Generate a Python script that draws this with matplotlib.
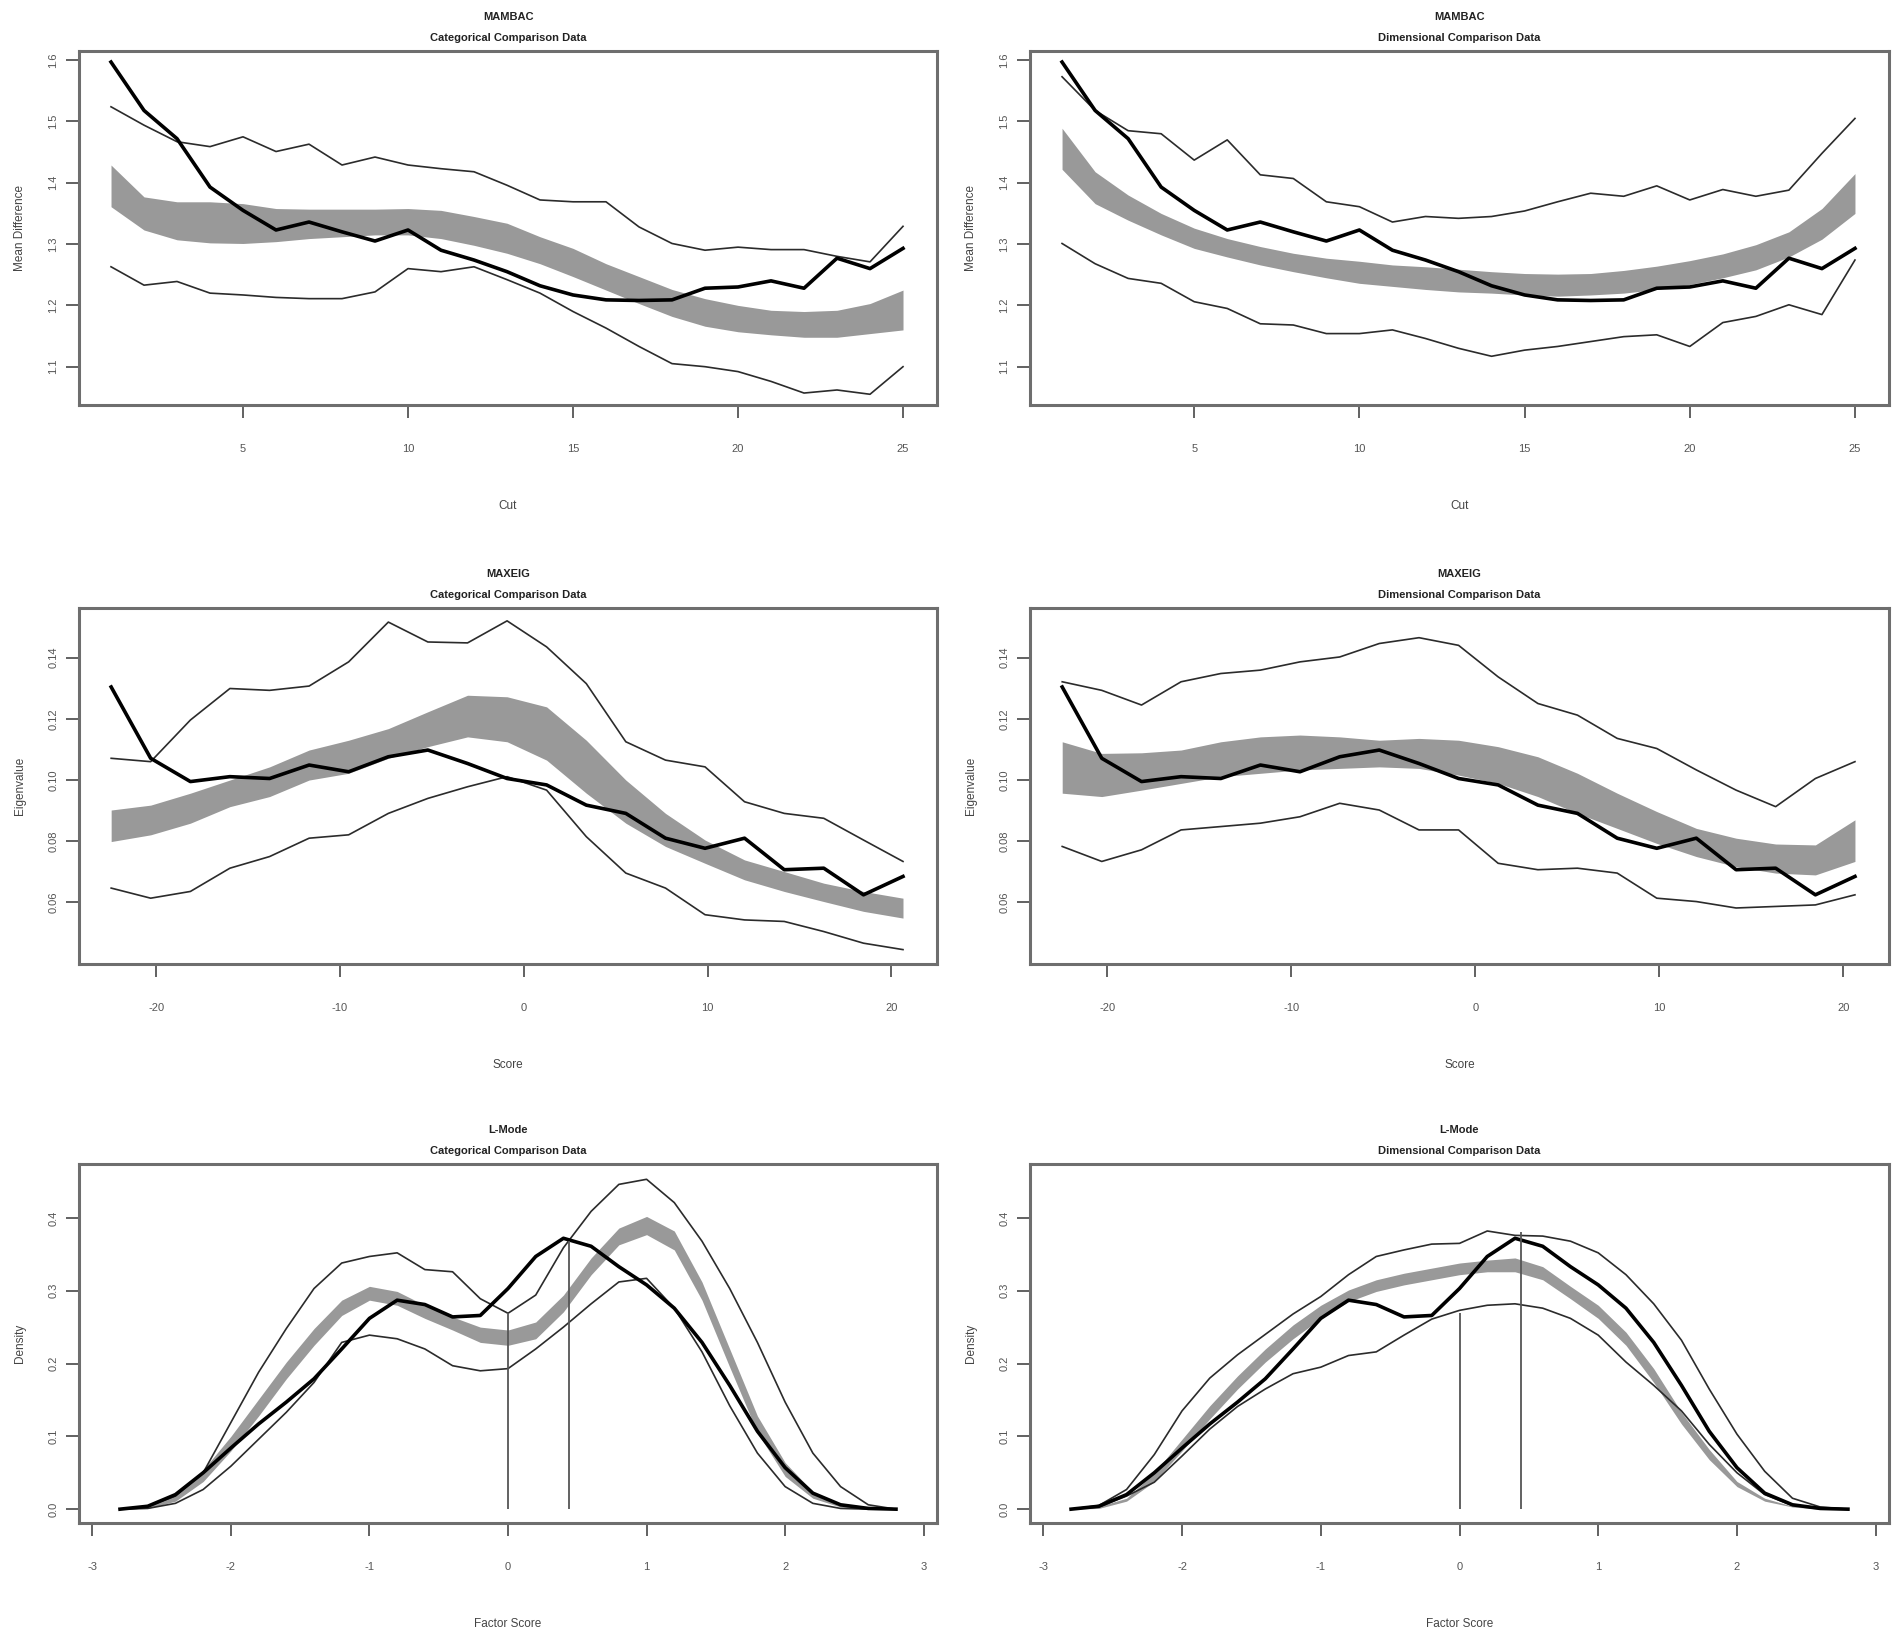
import numpy as np
import matplotlib
matplotlib.use("Agg")
import matplotlib.pyplot as plt

plt.rcParams["font.family"] = ["Liberation Sans", "DejaVu Sans"]
plt.rcParams["axes.unicode_minus"] = False

# ---------------- MAMBAC ----------------
cut = list(range(1, 26))
mambac_data = [1.597, 1.518, 1.472, 1.393, 1.355, 1.323, 1.336, 1.320, 1.305, 1.323, 1.290, 1.274, 1.255,
               1.232, 1.217, 1.209, 1.208, 1.209, 1.228, 1.230, 1.240, 1.228, 1.277, 1.260, 1.293]
mambac_cat_max = [1.524, 1.494, 1.467, 1.459, 1.475, 1.451, 1.463, 1.429, 1.442, 1.429, 1.423, 1.418, 1.396,
                  1.372, 1.369, 1.369, 1.328, 1.301, 1.290, 1.295, 1.291, 1.291, 1.280, 1.271, 1.329]
mambac_cat_min = [1.263, 1.233, 1.239, 1.220, 1.217, 1.213, 1.211, 1.211, 1.222, 1.260, 1.255, 1.263, 1.242,
                  1.220, 1.190, 1.163, 1.133, 1.105, 1.100, 1.092, 1.076, 1.057, 1.062, 1.055, 1.100]
mambac_cat_hi = [1.429, 1.377, 1.369, 1.369, 1.366, 1.358, 1.357, 1.357, 1.357, 1.358, 1.355, 1.345, 1.334,
                 1.312, 1.293, 1.268, 1.247, 1.226, 1.211, 1.200, 1.192, 1.190, 1.192, 1.203, 1.225]
mambac_cat_lo = [1.361, 1.323, 1.307, 1.302, 1.301, 1.304, 1.309, 1.312, 1.315, 1.315, 1.309, 1.298, 1.285,
                 1.268, 1.247, 1.225, 1.203, 1.182, 1.166, 1.157, 1.152, 1.148, 1.148, 1.154, 1.160]
mambac_dim_max = [1.573, 1.518, 1.485, 1.480, 1.437, 1.470, 1.413, 1.407, 1.369, 1.361, 1.336, 1.345, 1.342,
                  1.345, 1.354, 1.369, 1.383, 1.378, 1.395, 1.372, 1.389, 1.378, 1.388, 1.448, 1.505]
mambac_dim_min = [1.301, 1.268, 1.244, 1.236, 1.206, 1.195, 1.170, 1.168, 1.154, 1.154, 1.160, 1.146, 1.130,
                  1.117, 1.127, 1.133, 1.141, 1.149, 1.152, 1.133, 1.172, 1.182, 1.201, 1.185, 1.274]
mambac_dim_hi = [1.489, 1.418, 1.380, 1.350, 1.326, 1.309, 1.296, 1.285, 1.277, 1.272, 1.266, 1.263, 1.259,
                 1.255, 1.252, 1.251, 1.252, 1.257, 1.264, 1.273, 1.284, 1.299, 1.320, 1.358, 1.415]
mambac_dim_lo = [1.422, 1.366, 1.339, 1.315, 1.293, 1.279, 1.266, 1.255, 1.245, 1.236, 1.231, 1.226, 1.222,
                 1.220, 1.217, 1.215, 1.217, 1.220, 1.226, 1.234, 1.245, 1.258, 1.279, 1.308, 1.350]

# ---------------- MAXEIG ----------------
score = [-22.45, -20.30, -18.14, -15.99, -13.83, -11.68, -9.53, -7.37, -5.22, -3.06, -0.91,
         1.24, 3.40, 5.55, 7.71, 9.86, 12.01, 14.17, 16.32, 18.48, 20.63]
maxeig_data = [0.1304, 0.1071, 0.0995, 0.1011, 0.1005, 0.1049, 0.1027, 0.1076, 0.1098, 0.1054, 0.1005,
               0.0984, 0.0918, 0.0891, 0.0810, 0.0777, 0.0810, 0.0707, 0.0712, 0.0625, 0.0685]
maxeig_cat_max = [0.1071, 0.1060, 0.1196, 0.1299, 0.1293, 0.1307, 0.1386, 0.1516, 0.1451, 0.1448, 0.1520,
                  0.1435, 0.1315, 0.1125, 0.1065, 0.1043, 0.0929, 0.0891, 0.0875, 0.0804, 0.0734]
maxeig_cat_min = [0.0647, 0.0614, 0.0636, 0.0712, 0.0750, 0.0810, 0.0821, 0.0891, 0.0940, 0.0978, 0.1011,
                  0.0967, 0.0815, 0.0696, 0.0647, 0.0560, 0.0543, 0.0538, 0.0505, 0.0467, 0.0446]
maxeig_cat_hi = [0.0902, 0.0918, 0.0957, 0.1000, 0.1043, 0.1098, 0.1130, 0.1168, 0.1223, 0.1277, 0.1272,
                 0.1239, 0.1130, 0.1000, 0.0891, 0.0804, 0.0739, 0.0701, 0.0663, 0.0636, 0.0614]
maxeig_cat_lo = [0.0799, 0.0821, 0.0859, 0.0913, 0.0946, 0.1000, 0.1022, 0.1071, 0.1109, 0.1141, 0.1125,
                 0.1065, 0.0957, 0.0859, 0.0783, 0.0728, 0.0674, 0.0636, 0.0603, 0.0571, 0.0549]
maxeig_dim_max = [0.1321, 0.1293, 0.1245, 0.1321, 0.1348, 0.1359, 0.1386, 0.1402, 0.1446, 0.1465, 0.1440,
                  0.1337, 0.1250, 0.1212, 0.1136, 0.1103, 0.1033, 0.0967, 0.0913, 0.1005, 0.1060]
maxeig_dim_min = [0.0783, 0.0734, 0.0772, 0.0837, 0.0848, 0.0859, 0.0880, 0.0924, 0.0902, 0.0837, 0.0837,
                  0.0728, 0.0707, 0.0712, 0.0696, 0.0614, 0.0603, 0.0582, 0.0587, 0.0592, 0.0625]
maxeig_dim_hi = [0.1125, 0.1087, 0.1089, 0.1098, 0.1125, 0.1141, 0.1147, 0.1141, 0.1130, 0.1136, 0.1130,
                 0.1109, 0.1076, 0.1022, 0.0957, 0.0897, 0.0842, 0.0810, 0.0791, 0.0788, 0.0870]
maxeig_dim_lo = [0.0957, 0.0946, 0.0967, 0.0989, 0.1011, 0.1022, 0.1033, 0.1038, 0.1043, 0.1038, 0.1016,
                 0.0989, 0.0946, 0.0891, 0.0842, 0.0793, 0.0750, 0.0717, 0.0696, 0.0690, 0.0734]

# ---------------- L-Mode ----------------
factor = [-2.8, -2.6, -2.4, -2.2, -2.0, -1.8, -1.6, -1.4, -1.2, -1.0, -0.8, -0.6, -0.4, -0.2, 0.0,
          0.2, 0.4, 0.6, 0.8, 1.0, 1.2, 1.4, 1.6, 1.8, 2.0, 2.2, 2.4, 2.6, 2.8]
lmode_data = [0, 0.004, 0.020, 0.050, 0.084, 0.117, 0.147, 0.179, 0.220, 0.262, 0.287, 0.281, 0.264, 0.266,
              0.303, 0.347, 0.372, 0.361, 0.333, 0.308, 0.276, 0.229, 0.170, 0.107, 0.057, 0.022, 0.006, 0.001, 0]
lmode_cat_max = [0, 0.004, 0.018, 0.050, 0.119, 0.188, 0.248, 0.303, 0.338, 0.347, 0.352, 0.329, 0.326, 0.289,
                 0.269, 0.294, 0.359, 0.409, 0.446, 0.453, 0.421, 0.368, 0.303, 0.229, 0.147, 0.077, 0.031, 0.006, 0]
lmode_cat_min = [0, 0.001, 0.008, 0.027, 0.059, 0.096, 0.133, 0.174, 0.229, 0.239, 0.234, 0.220, 0.197, 0.190,
                 0.193, 0.220, 0.250, 0.282, 0.312, 0.317, 0.276, 0.216, 0.142, 0.077, 0.031, 0.008, 0.001, 0, 0]
lmode_cat_hi = [0, 0.004, 0.020, 0.054, 0.100, 0.151, 0.202, 0.248, 0.287, 0.306, 0.299, 0.280, 0.264, 0.250,
                0.246, 0.257, 0.294, 0.345, 0.386, 0.402, 0.382, 0.312, 0.220, 0.128, 0.064, 0.024, 0.006, 0.001, 0]
lmode_cat_lo = [0, 0.001, 0.011, 0.038, 0.080, 0.128, 0.179, 0.225, 0.266, 0.287, 0.280, 0.262, 0.246, 0.229,
                0.225, 0.234, 0.271, 0.322, 0.363, 0.377, 0.356, 0.287, 0.195, 0.105, 0.045, 0.015, 0.003, 0, 0]
lmode_dim_max = [0, 0.005, 0.027, 0.075, 0.135, 0.180, 0.212, 0.240, 0.268, 0.292, 0.322, 0.347, 0.356, 0.364,
                 0.365, 0.382, 0.376, 0.375, 0.368, 0.352, 0.322, 0.282, 0.232, 0.165, 0.103, 0.052, 0.015, 0.003, 0]
lmode_dim_min = [0, 0.003, 0.018, 0.037, 0.073, 0.110, 0.141, 0.165, 0.186, 0.195, 0.211, 0.216, 0.239, 0.261,
                 0.273, 0.280, 0.282, 0.276, 0.262, 0.239, 0.202, 0.170, 0.135, 0.089, 0.050, 0.020, 0.005, 0.001, 0]
lmode_dim_hi = [0, 0.004, 0.015, 0.050, 0.096, 0.142, 0.183, 0.220, 0.253, 0.280, 0.301, 0.315, 0.324, 0.331,
                0.338, 0.342, 0.345, 0.333, 0.306, 0.280, 0.243, 0.193, 0.133, 0.082, 0.038, 0.015, 0.004, 0.001, 0]
lmode_dim_lo = [0, 0.001, 0.011, 0.038, 0.080, 0.124, 0.165, 0.202, 0.234, 0.262, 0.285, 0.299, 0.308, 0.315,
                0.322, 0.326, 0.326, 0.315, 0.289, 0.262, 0.225, 0.174, 0.117, 0.068, 0.031, 0.011, 0.003, 0, 0]
# estimated modes (vertical lines) and the height they reach
mode_x = [0.0, 0.44]
mode_top_cat = [0.269, 0.368]
mode_top_dim = [0.269, 0.380]

W, H = 1902, 1643
fig = plt.figure(figsize=(W / 100, H / 100), dpi=100)

# axes boxes in pixels: left, right, top, bottom
cols = [(79, 937), (1030, 1889)]
rows = [(51, 405), (608, 964), (1164, 1523)]

band_col = "#999999"
thin_col = "#2b2b2b"


def make_ax(col, row):
    l, r = cols[col]
    t, b = rows[row]
    ax = fig.add_axes([l / W, 1 - b / H, (r - l) / W, (b - t) / H])
    for s in ax.spines.values():
        s.set_color("#6e6e6e")
        s.set_linewidth(2.2)
    ax.tick_params(axis="both", length=9.4, width=1.3, color="#555555",
                   labelsize=8, labelcolor="#555555")
    ax.tick_params(axis="x", pad=19)
    ax.tick_params(axis="y", pad=5.5)
    return ax, (b - t)


def titles(ax, hpx, name, sub):
    ax.text(0.5, 1 + 34 / hpx, name, transform=ax.transAxes, ha="center", va="center",
            fontsize=8, fontweight="bold", color="#222222")
    ax.text(0.5, 1 + 13 / hpx, sub, transform=ax.transAxes, ha="center", va="center",
            fontsize=8, fontweight="bold", color="#222222")


def labels(ax, hpx, xl, yl):
    ax.set_xlabel(xl, fontsize=8.5, color="#444444")
    ax.set_ylabel(yl, fontsize=8.5, color="#444444")
    ax.xaxis.set_label_coords(0.5, -101 / hpx)
    ax.xaxis.label.set_va("center")
    ax.yaxis.set_label_coords(-59 / 858, 0.5)
    ax.yaxis.label.set_va("center")


def yfmt(ax, ticks, fmt):
    ax.set_yticks(ticks)
    ax.set_yticklabels([fmt % v for v in ticks], rotation=90, va="center")


subs = ["Categorical Comparison Data", "Dimensional Comparison Data"]

# MAMBAC row
for c, (mx, mn, hi, lo) in enumerate([(mambac_cat_max, mambac_cat_min, mambac_cat_hi, mambac_cat_lo),
                                       (mambac_dim_max, mambac_dim_min, mambac_dim_hi, mambac_dim_lo)]):
    ax, hpx = make_ax(c, 0)
    ax.fill_between(cut, lo, hi, color=band_col, lw=0)
    ax.plot(cut, mx, color=thin_col, lw=1.2)
    ax.plot(cut, mn, color=thin_col, lw=1.2)
    ax.plot(cut, mambac_data, color="black", lw=2.6)
    ax.set_xlim(0.03, 26.03)
    ax.set_ylim(1.0375, 1.615)
    ax.set_xticks([5, 10, 15, 20, 25])
    yfmt(ax, [1.1, 1.2, 1.3, 1.4, 1.5, 1.6], "%.1f")
    titles(ax, hpx, "MAMBAC", subs[c])
    labels(ax, hpx, "Cut", "Mean Difference")

# MAXEIG row
for c, (mx, mn, hi, lo) in enumerate([(maxeig_cat_max, maxeig_cat_min, maxeig_cat_hi, maxeig_cat_lo),
                                       (maxeig_dim_max, maxeig_dim_min, maxeig_dim_hi, maxeig_dim_lo)]):
    ax, hpx = make_ax(c, 1)
    ax.fill_between(score, lo, hi, color=band_col, lw=0)
    ax.plot(score, mx, color=thin_col, lw=1.2)
    ax.plot(score, mn, color=thin_col, lw=1.2)
    ax.plot(score, maxeig_data, color="black", lw=2.6)
    ax.set_xlim(-24.2, 22.48)
    ax.set_ylim(0.0399, 0.1562)
    ax.set_xticks([-20, -10, 0, 10, 20])
    yfmt(ax, [0.06, 0.08, 0.10, 0.12, 0.14], "%.2f")
    titles(ax, hpx, "MAXEIG", subs[c])
    labels(ax, hpx, "Score", "Eigenvalue")

# L-Mode row
for c, (mx, mn, hi, lo, tops) in enumerate([
        (lmode_cat_max, lmode_cat_min, lmode_cat_hi, lmode_cat_lo, mode_top_cat),
        (lmode_dim_max, lmode_dim_min, lmode_dim_hi, lmode_dim_lo, mode_top_dim)]):
    ax, hpx = make_ax(c, 2)
    ax.fill_between(factor, lo, hi, color=band_col, lw=0)
    ax.plot(factor, mx, color=thin_col, lw=1.2)
    ax.plot(factor, mn, color=thin_col, lw=1.2)
    ax.plot(factor, lmode_data, color="black", lw=2.6)
    ax.vlines(mode_x, 0, tops, color="#555555", lw=1.3)
    ax.set_xlim(-3.096, 3.096)
    ax.set_ylim(-0.019, 0.474)
    ax.set_xticks([-3, -2, -1, 0, 1, 2, 3])
    yfmt(ax, [0.0, 0.1, 0.2, 0.3, 0.4], "%.1f")
    titles(ax, hpx, "L-Mode", subs[c])
    labels(ax, hpx, "Factor Score", "Density")

fig.savefig("out.png", dpi=100, facecolor="white")
